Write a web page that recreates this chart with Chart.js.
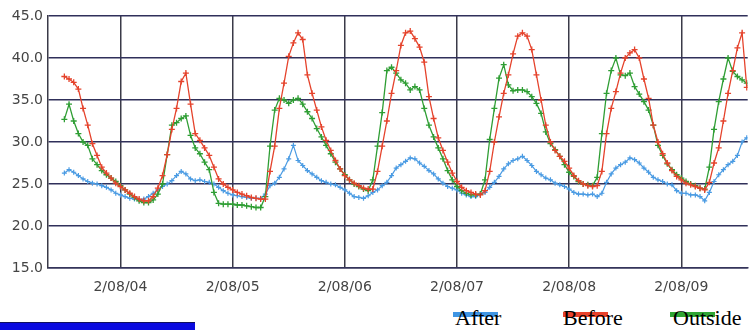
<!DOCTYPE html>
<html>
<head>
<meta charset="utf-8">
<script src="https://cdn.jsdelivr.net/npm/chart.js@4/dist/chart.umd.min.js"></script>
<style>
  html, body { margin: 0; padding: 0; background: #fff; }
  #wrap { position: relative; width: 753px; height: 330px; overflow: hidden; }
  #c { position: absolute; left: 0; top: 0; }
  .lg { position: absolute; top: 306px; font-family: "Liberation Serif", "Times New Roman", serif; font-size: 22px; color: #000; line-height: 24px; }
  .bar { position: absolute; top: 312px; height: 5px; width: 45px; }
  #bluebox { position: absolute; left: 0; top: 322px; width: 195px; height: 8px; background: #0a0ae0; border-top: 1px solid #101060; box-sizing: border-box; }
</style>
</head>
<body>
<div id="wrap">
  <canvas id="c" width="753" height="300"></canvas>
  <div class="bar" style="left:453px;background:#3f95e3;"></div>
  <div class="lg" style="left:455px;">After</div>
  <div class="bar" style="left:563px;background:#e8412b;"></div>
  <div class="lg" style="left:563px;">Before</div>
  <div class="bar" style="left:670px;background:#2fa534;"></div>
  <div class="lg" style="left:673px;">Outside</div>
  <div id="bluebox"></div>
</div>
<script>
// Day tick labels (midnight of each day)
const dayLabels = ["2/08/04", "2/08/05", "2/08/06", "2/08/07", "2/08/08", "2/08/09"];
const dayTicks = [0, 24, 48, 72, 96, 120];
// hourly samples, first sample at hour -12 (noon of the previous day)
const startHour = -12;

const after = [
  26.3, 26.7, 26.4, 26.0, 25.6, 25.3, 25.1, 25.0, 24.8, 24.6, 24.3, 23.9,
  23.7, 23.5, 23.3, 23.2, 23.1, 23.2, 23.5, 23.9, 24.3, 24.7, 25.0, 25.4,
  26.0, 26.5, 26.2, 25.6, 25.4, 25.5, 25.3, 25.2, 25.0, 24.6, 24.2, 23.9,
  23.7, 23.6, 23.5, 23.4, 23.3, 23.3, 23.3, 23.8, 24.8, 25.1, 25.8, 26.8,
  28.0, 29.6, 27.8, 27.2, 26.6, 26.2, 25.8, 25.4, 25.2, 25.0, 24.9, 24.6,
  24.3, 23.9, 23.5, 23.4, 23.3, 23.6, 24.0, 24.3, 24.8, 25.2, 26.0, 26.9,
  27.3, 27.7, 28.1, 28.0, 27.5, 27.1, 26.6, 26.2, 25.6, 25.1, 24.7, 24.5,
  24.3, 23.9, 23.7, 23.5, 23.5, 23.8, 24.0, 24.6, 25.2, 25.9, 26.8, 27.4,
  27.8, 28.0, 28.3, 27.8, 27.2, 26.5, 26.1, 25.7, 25.5, 25.1, 24.9, 24.7,
  24.4, 24.0, 23.8, 23.8, 23.7, 23.8, 23.5, 23.9, 25.2, 26.2, 26.9, 27.3,
  27.6, 28.1, 27.9, 27.5, 26.9, 26.4, 25.8, 25.5, 25.3, 25.0, 24.9, 24.2,
  23.9, 23.9, 23.7, 23.7, 23.5, 23.0, 24.0, 25.3, 26.1, 26.7, 27.3, 27.7,
  28.4, 30.0, 30.5
];
const before = [
  37.8, 37.5, 37.1, 36.3, 34.0, 32.0, 29.8, 28.4, 27.0, 26.3, 25.7, 25.1,
  24.7, 24.3, 23.9, 23.5, 23.2, 23.0, 23.0, 23.5, 24.5, 26.0, 28.5, 31.5,
  34.0, 37.2, 38.2, 34.5, 31.0, 30.2, 29.3, 28.4, 27.0, 25.6, 25.0, 24.6,
  24.3, 24.0, 23.8, 23.6, 23.4, 23.3, 23.2, 23.2, 26.5, 29.5, 34.0, 37.0,
  40.2, 41.8, 43.0, 42.2, 38.0, 35.8, 33.8, 31.8, 30.2, 29.0, 27.8, 26.8,
  26.0, 25.5, 25.1, 24.8, 24.5, 24.4, 24.4, 26.5, 29.5, 32.5, 35.8, 38.5,
  41.5, 43.0, 43.2, 42.3, 41.3, 39.5, 35.4, 32.8, 30.5, 29.0, 27.6, 26.3,
  25.3, 24.6, 24.2, 24.0, 23.8, 23.7, 24.2, 26.5, 30.0, 33.0, 35.8, 38.0,
  40.5, 42.6, 43.0, 42.6, 41.0, 38.0, 35.0, 32.0, 30.0, 29.0, 28.3, 27.7,
  26.9, 26.0, 25.4, 25.0, 24.8, 24.7, 24.8, 26.5, 31.0, 34.0, 36.0, 38.2,
  40.0, 40.6, 41.0, 40.0, 37.5, 35.2, 32.0, 30.0, 28.6, 27.5, 26.6, 25.9,
  25.5, 25.1, 24.9, 24.7, 24.5, 24.3, 25.2, 27.5, 29.3, 32.5, 35.8, 38.5,
  41.2, 43.0, 36.5
];
const outside = [
  32.7, 34.5, 32.5, 31.0, 30.0, 29.6, 28.0, 27.3, 26.6, 26.1, 25.7, 25.3,
  24.8, 24.3, 23.8, 23.4, 23.0, 22.8, 22.8, 23.1, 23.8, 25.0, 28.5, 32.0,
  32.3, 32.8, 33.1, 30.8, 29.3, 28.6, 27.6, 26.7, 24.0, 22.7, 22.6, 22.6,
  22.6, 22.5, 22.5, 22.4, 22.3, 22.2, 22.2, 23.5, 29.5, 33.8, 35.2, 35.0,
  34.6, 35.0, 35.2, 34.5, 33.6, 32.8, 31.6, 30.6, 29.6, 28.6, 27.6, 26.8,
  26.1, 25.5, 25.0, 24.7, 24.4, 24.2, 25.5, 29.5, 33.5, 38.5, 38.9, 38.2,
  37.4, 37.0, 36.2, 36.6, 36.2, 34.0, 32.0, 30.6, 29.3, 28.0, 26.6, 25.5,
  24.7, 24.2, 23.9, 23.7, 23.7, 23.8, 25.5, 30.3, 34.0, 37.6, 39.2, 36.8,
  36.1, 36.2, 36.2, 36.0, 35.4, 34.6, 33.4, 31.2, 29.8, 29.1, 28.3, 27.3,
  26.4, 25.9, 25.3, 25.0, 24.9, 24.8, 25.8, 31.0, 35.8, 38.5, 40.0, 38.0,
  37.9, 38.2, 36.6, 35.7, 34.8, 33.8, 32.0, 29.6, 28.4, 27.4, 26.7, 26.1,
  25.7, 25.3, 25.0, 24.8, 24.5, 24.4, 27.0, 31.5, 34.8, 37.5, 40.0, 38.4,
  37.8, 37.4, 37.0
];

function toPoints(arr) {
  return arr.map((v, i) => ({ x: startHour + i, y: v }));
}

const tickFont = { family: "DejaVu Sans", size: 14 };

new Chart(document.getElementById("c"), {
  type: "line",
  data: {
    datasets: [
      { label: "Before", data: toPoints(before), borderColor: "#e5432c", backgroundColor: "#e5432c",
        borderWidth: 1.3, pointStyle: "cross", pointRadius: 3, pointBorderWidth: 1.3, tension: 0 },
      { label: "Outside", data: toPoints(outside), borderColor: "#2f9e34", backgroundColor: "#2f9e34",
        borderWidth: 1.3, pointStyle: "cross", pointRadius: 3, pointBorderWidth: 1.3, tension: 0 },
      { label: "After", data: toPoints(after), borderColor: "#4a9be3", backgroundColor: "#4a9be3",
        borderWidth: 1.2, pointStyle: "cross", pointRadius: 2.5, pointBorderWidth: 1.2, tension: 0 }
    ]
  },
  options: {
    responsive: false,
    animation: false,
    devicePixelRatio: 1,
    layout: { padding: { top: 16, right: 0, left: 0, bottom: 0 } },
    plugins: { legend: { display: false }, tooltip: { enabled: false } },
    scales: {
      x: {
        type: "linear",
        min: -15.5,
        max: 134.2,
        afterBuildTicks: (s) => { s.ticks = dayTicks.map(v => ({ value: v })); },
        afterFit: (s) => { s.height = 32; },
        ticks: {
          autoSkip: false, maxRotation: 0, padding: 11, color: "#444", font: tickFont,
          callback: (v) => { const i = dayTicks.indexOf(v); return i >= 0 ? dayLabels[i] : ""; }
        },
        grid: { color: "#3a3a48", lineWidth: 1.5, drawTicks: false },
        border: { display: true, color: "#34345a", width: 1.5 }
      },
      y: {
        min: 15,
        max: 45,
        afterFit: (s) => { s.width = 48; },
        ticks: { stepSize: 5, padding: 5, color: "#444", font: tickFont,
          callback: (v) => Number(v).toFixed(1) },
        grid: { color: "#30305a", lineWidth: 1.5, drawTicks: false },
        border: { display: true, color: "#3a3a48", width: 1.5 }
      }
    }
  }
});
</script>
</body>
</html>
